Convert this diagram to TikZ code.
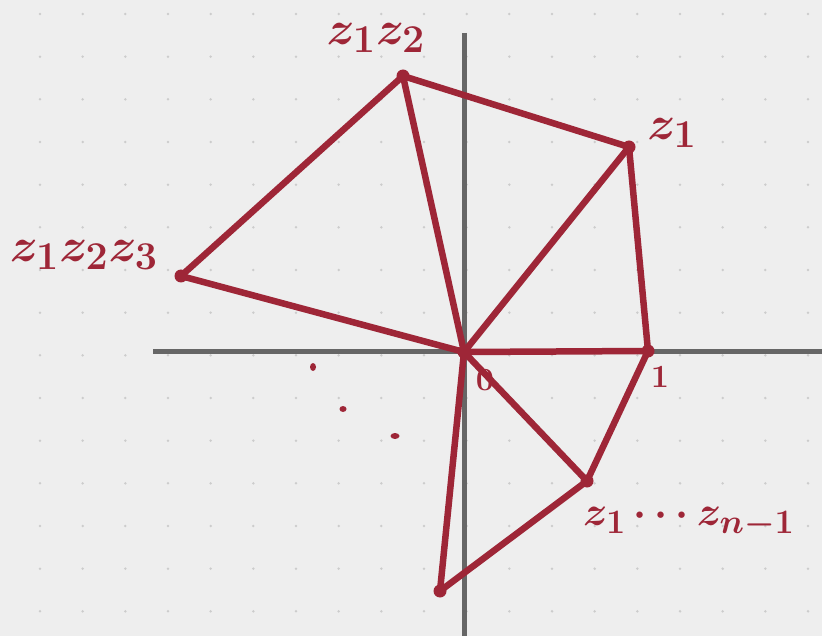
\documentclass[tikz,border=0pt]{standalone}
\usepackage{amsmath}
\usepackage{graphicx}
\definecolor{bgc}{HTML}{EEEEEE}
\definecolor{gridc}{HTML}{CCCCCC}
\definecolor{axc}{HTML}{666666}
\definecolor{inkc}{HTML}{9E2637}
\newcommand{\biglbl}[1]{\scalebox{1.9}{\Huge\boldmath$#1$}}
\newcommand{\widelbl}[1]{\scalebox{1.65}{\Huge\boldmath$#1$}}
\newcommand{\medlbl}[1]{\scalebox{1.3}{\Huge\boldmath$#1$}}
\tikzset{
  axisline/.style={draw=axc, line width=5pt},
  edge/.style={draw=inkc, line width=6.5pt, line cap=round, line join=round},
  vdot/.style={circle, fill=inkc, inner sep=0pt, minimum size=13pt},
  lbl/.style={text=inkc, inner sep=0pt}
}
\begin{document}
\begin{tikzpicture}[x=1pt,y=-1pt]
\fill[bgc] (0,0) rectangle (822,636);
\useasboundingbox (0,0) rectangle (822,636);
\foreach \i in {0,...,18}{\foreach \j in {0,...,14}{
  \fill[gridc] ({40+42.667*\i},{14+42.667*\j}) circle (1.4pt);}}
\begin{scope}
\clip (0,0) rectangle (822,636);
\draw[axisline] (464,33) -- (464,640);
\draw[axisline] (153,351) -- (826,351);
\end{scope}
\node[vdot] (O) at (464,352) {};
\node[vdot] (A) at (403,76) {};
\node[vdot] (B) at (629,147) {};
\node[vdot] (C) at (181,276) {};
\node[vdot] (D) at (648,351) {};
\node[vdot] (E) at (587,481) {};
\node[vdot] (F) at (440,591) {};
\draw[edge] (O.center) -- (A.center);
\draw[edge] (O.center) -- (B.center);
\draw[edge] (O.center) -- (C.center);
\draw[edge] (O.center) -- (D.center);
\draw[edge] (O.center) -- (E.center);
\draw[edge] (O.center) -- (F.center);
\draw[edge] (A.center) -- (B.center);
\draw[edge] (B.center) -- (D.center);
\draw[edge] (A.center) -- (C.center);
\draw[edge] (D.center) -- (E.center);
\draw[edge] (E.center) -- (F.center);
\node[lbl] (lA) at (376,38) {\biglbl{z_1z_2}};
\node[lbl] (lB) at (672,133) {\biglbl{z_1}};
\node[lbl] (lC) at (84,255) {\biglbl{z_1z_2z_3}};
\node[lbl] (lO) at (485,380) {\medlbl{0}};
\node[lbl] (lD) at (660,377) {\medlbl{1}};
\node[lbl] (lE) at (689,522) {\widelbl{z_1\cdots z_{n-1}}};
\fill[inkc] (313,367) ellipse (3pt and 4pt);
\fill[inkc] (343,409) ellipse (3.5pt and 3pt);
\fill[inkc] (395,436) ellipse (4.5pt and 3pt);
\end{tikzpicture}
\end{document}
